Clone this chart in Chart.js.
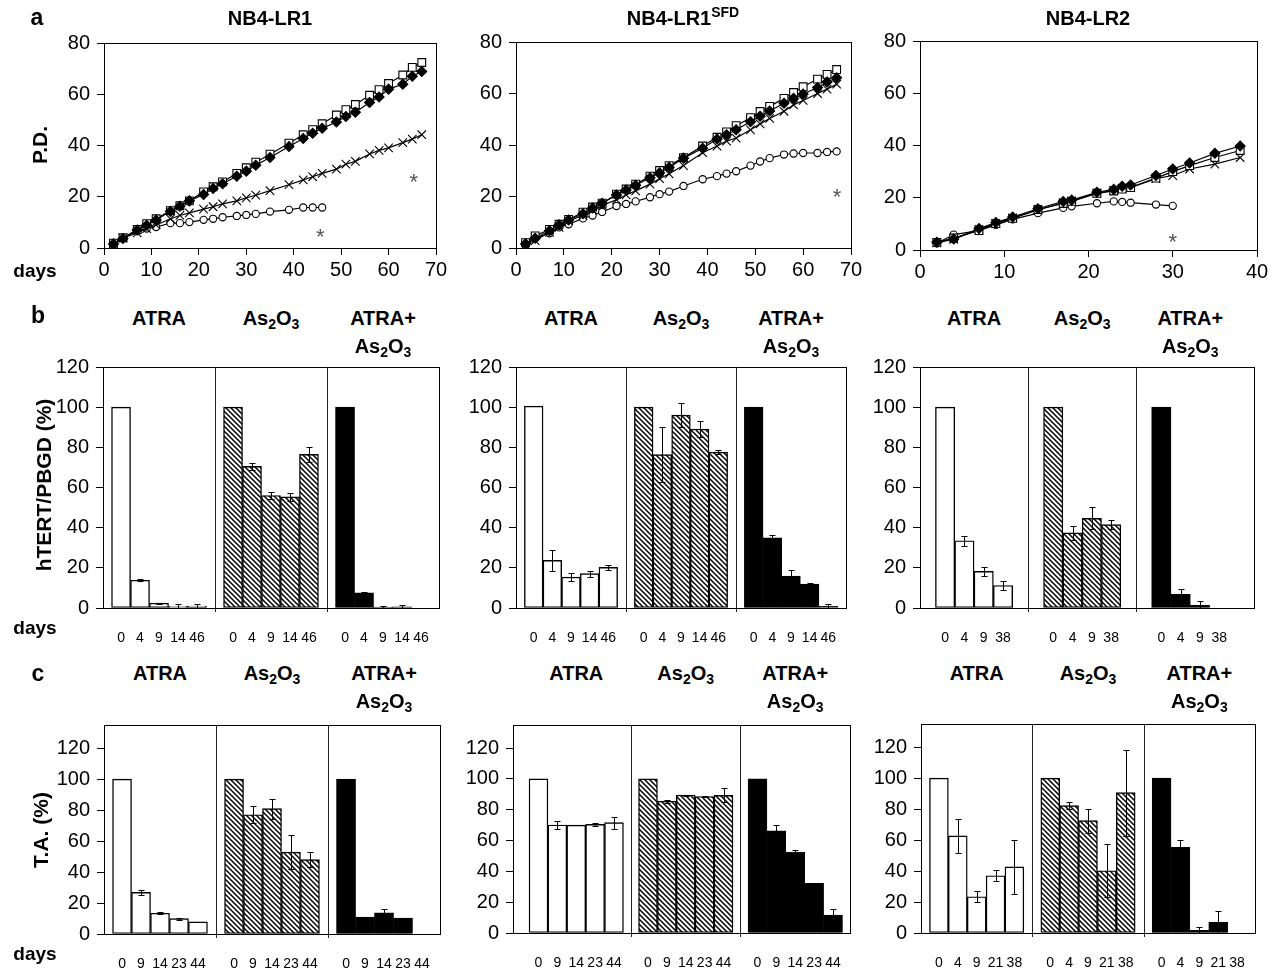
<!DOCTYPE html>
<html><head><meta charset="utf-8">
<script src="https://cdn.jsdelivr.net/npm/chart.js@4/dist/chart.umd.min.js"></script>
<style>
html,body{margin:0;padding:0;background:#fff}
#fig{position:relative;width:1282px;height:969px;overflow:hidden;font-family:'Liberation Sans',Arial,Helvetica,sans-serif;color:#000}
.pane{position:absolute}
.lbl{position:absolute;transform:translate(-50%,-50%);white-space:nowrap;font-weight:bold;line-height:1;z-index:5}
.rot{transform:translate(-50%,-50%) rotate(-90deg)}
sub,sup{font-size:70%;line-height:0}
sub{vertical-align:-0.3em}
sup{vertical-align:0.55em}
</style></head><body><div id="fig"></div>
<script>
// ---------------- DATA ----------------
// Row a: population doublings (P.D.) vs days
const daysLR1 = [2,4,7,9,11,14,16,18,21,23,25,28,30,32,35,39,42,44,46,49,51,53,56,58,60,63,65,67];
const lr1Square  = [1.9,4,7.2,9.5,11.4,14.6,16.5,18.4,21.9,23.9,25.8,29.1,31.3,33.5,36.6,40.9,44.2,46.2,48.5,51.9,54,56,59.6,61.8,64.2,67.5,70.5,72.4];
const lr1Diamond = [1.6,3.7,7,8.9,10.9,14.3,16.3,18.4,20.9,23.2,25.1,28,30,32.3,35.3,39.6,42.7,44.8,46.7,49.2,51.3,53,56.8,58.9,62,63.9,67,68.9];
const lr1Cross   = [1.6,3.9,5.9,7.6,9,11.4,12.7,13.7,15.2,16.1,17.2,18.4,19.6,20.6,22.4,24.7,26.6,27.8,29.1,30.8,32.7,33.8,36.7,38.1,39.1,41.1,42.5,44.2];
const lr1Circle  = [1.6,3.8,6.6,7.6,8.2,9.7,9.7,10.1,11,11.4,12,12.5,12.9,13.3,14.2,14.9,15.8,15.8,15.8];
const lr1Stars   = [{x:45.6,y:5.7},{x:65.3,y:27.2}];

const daysSFD = [2,4,7,9,11,14,16,18,21,23,25,28,30,32,35,39,42,44,46,49,51,53,56,58,60,63,65,67];
const sfdSquare  = [2.1,4.7,7.2,9.2,11.1,13.9,15.9,17.4,20.9,22.9,24.8,27.9,30.1,32,35.1,39.6,43,45.1,47.5,50.6,53,55,58.1,60.4,62.6,65.6,67.4,69.3];
const sfdDiamond = [1.6,3.8,6.7,9,10.9,13.3,15.5,17.4,20.6,22.5,24.4,27.3,29.2,31.3,34.9,38.7,42.3,44,45.9,49,51.2,53.2,56.2,58.1,59.8,62.3,64.5,66.1];
const sfdCross   = [1.3,2.9,6.1,8,10.5,12.6,14.9,16.6,18.7,20.6,22.2,24.8,26.9,28.8,32,37,39.6,41.5,42.7,45.9,48.2,50.3,53.1,55.6,57.3,60,61.7,63.6];
const sfdCircle  = [1.6,3.8,5.7,8,9.2,11.5,12.6,14,16.3,17.1,18.1,19.7,20.9,21.9,24.1,26.7,27.9,28.9,29.8,32,33.6,34.9,36.3,36.7,36.9,36.9,37.3,37.5];
const sfdStars   = [{x:67.1,y:21.2}];

const daysLR2 = [2,4,7,9,11,14,17,18,21,23,24,25,28,30,32,35,38];
const lr2Square  = [2.9,4.6,7.4,10.1,12.1,15.5,17.8,18.6,21.7,22.6,23.3,23.9,27.5,30,32.3,35.4,38.1];
const lr2Diamond = [3,4.2,8.2,10.5,12.6,15.8,18.6,19.1,22.1,23.2,24.4,24.9,28.5,31,33.3,37,39.8];
const lr2Cross   = [2.7,4.1,7.9,10.1,12.3,15.3,18.1,18.8,21.8,22.8,23.6,24,27.3,28.5,31,32.9,35.4];
const lr2Circle  = [2.6,5.9,7.4,9.6,11.7,14.1,16.1,16.7,17.9,18.6,18.4,18.1,17.4,16.9];
const lr2Stars   = [{x:30,y:4.6}];

const xTicksLR1 = [0,10,20,30,40,50,60,70];
const xTicksLR2 = [0,10,20,30,40];
const yTicksPD  = [0,20,40,60,80];
const yTicksPct = [0,20,40,60,80,100,120];

const groupNames = ['ATRA','As<sub>2</sub>O<sub>3</sub>','ATRA+|As<sub>2</sub>O<sub>3</sub>'];

// Row b: hTERT/PBGD (%)
const bLR1Days = ['0','4','9','14','46'];
const bLR1Atra = [100,13.8,2.4,0.8,1.0],   bLR1AtraErr = [0,0.5,0.3,1.0,0.8];
const bLR1As   = [100,70.5,56,55.3,76.5],  bLR1AsErr   = [0,1.6,1.6,1.8,3.6];
const bLR1Both = [100,7.5,0.5,0.6,0],      bLR1BothErr = [0,0.6,0.5,1.0,0];

const bSFDDays = ['0','4','9','14','46'];
const bSFDAtra = [100.5,23.7,15.4,17.1,20.2], bSFDAtraErr = [0,5.2,2,1.5,1.3];
const bSFDAs   = [100,76.4,96,89.1,77.6],     bSFDAsErr   = [0,13.8,6,4.1,1.1];
const bSFDBoth = [100,35,15.9,11.9,0.8],      bSFDBothErr = [0,1.4,3.1,0.3,1.2];

const bLR2Days = ['0','4','9','38'];
const bLR2Atra = [100,33.5,18.2,11.2], bLR2AtraErr = [0,2.5,2.1,2.3];
const bLR2As   = [100,37.4,44.6,41.5], bLR2AsErr   = [0,3.6,5.5,2.1];
const bLR2Both = [100,6.8,1.3,0],      bLR2BothErr = [0,2.5,2.3,0];

// Row c: T.A. (%)
const cLR1Days = ['0','9','14','23','44'];
const cLR1Atra = [100,26.9,13.4,9.9,7.8], cLR1AtraErr = [0,1.4,0.6,0.7,0];
const cLR1As   = [100,77,81,52.9,48],     cLR1AsErr   = [0,5.4,6.5,11.1,4.9];
const cLR1Both = [100,10.9,13.6,10.3,0],  cLR1BothErr = [0,0.3,2.6,0,0];

const cSFDDays = ['0','9','14','23','44'];
const cSFDAtra = [100,70.1,70,70.5,71.6], cSFDAtraErr = [0,2.8,0,0.8,3.8];
const cSFDAs   = [100,85.5,89.5,88.6,89.3], cSFDAsErr = [0,1,0.3,0.5,4.6];
const cSFDBoth = [100,66.3,52.6,32.2,11.6], cSFDBothErr = [0,3.6,1,0.3,4.2];

const cLR2Days = ['0','4','9','21','38'];
const cLR2Atra = [100,62.7,23.4,37,42.7], cLR2AtraErr = [0,11.2,3.5,3.6,17.3];
const cLR2As   = [100,82.3,72.6,40.2,90.7], cLR2AsErr = [0,2.5,7.8,17.1,27.8];
const cLR2Both = [100,55.4,1.7,6.9,0],    cLR2BothErr = [0,4.4,2.1,7,0];

// ---------------- RENDERING ----------------
const FONT = "'Liberation Sans', Arial, Helvetica, sans-serif";
Chart.defaults.font.family = FONT;
Chart.defaults.color = '#000';
const PT = 14, PR = 22, YW = 62, XH = 44;
const fig = document.getElementById('fig');

function label(html, cx, cy, size, extraCls) {
  const d = document.createElement('div');
  d.className = 'lbl' + (extraCls ? ' ' + extraCls : '');
  d.style.left = cx + 'px'; d.style.top = cy + 'px'; d.style.fontSize = size + 'px';
  d.innerHTML = html; fig.appendChild(d); return d;
}

function place(box) {
  const wrap = document.createElement('div'); wrap.className = 'pane';
  const w = box.R - box.L + YW + PR, h = box.B - box.T + PT + XH;
  wrap.style.left = (box.L - YW) + 'px'; wrap.style.top = (box.T - PT) + 'px';
  const cv = document.createElement('canvas'); cv.width = w; cv.height = h;
  cv.style.width = w + 'px'; cv.style.height = h + 'px';
  wrap.appendChild(cv); fig.appendChild(wrap);
  return { cv, offX: box.L - YW, offY: box.T - PT };
}

function framePlugin(dividers) {
  return { id: 'frame', afterDatasetsDraw(chart) {
    const { ctx, chartArea: a } = chart; const x = chart.scales.x;
    ctx.save(); ctx.strokeStyle = '#000'; ctx.lineWidth = 1;
    ctx.strokeRect(Math.round(a.left) + 0.5, Math.round(a.top) + 0.5, Math.round(a.right - a.left), Math.round(a.bottom - a.top));
    ctx.strokeStyle = '#222';
    (dividers || []).forEach(v => {
      const px = Math.round(x.getPixelForValue(v)) + 0.5;
      ctx.beginPath(); ctx.moveTo(px, a.top); ctx.lineTo(px, a.bottom + 4); ctx.stroke();
    });
    ctx.restore();
  } };
}

function starPlugin(stars) {
  return { id: 'stars', afterDatasetsDraw(chart) {
    const { ctx } = chart; const x = chart.scales.x, y = chart.scales.y;
    ctx.save(); ctx.fillStyle = '#555'; ctx.font = '22px ' + FONT; ctx.textAlign = 'center'; ctx.textBaseline = 'alphabetic';
    const m = ctx.measureText('*');
    const off = (m.actualBoundingBoxAscent - m.actualBoundingBoxDescent) / 2;
    stars.forEach(s => ctx.fillText('*', x.getPixelForValue(s.x), y.getPixelForValue(s.y) + off));
    ctx.restore();
  } };
}

const errorPlugin = { id: 'errbars', afterDatasetsDraw(chart) {
  const { ctx } = chart; const y = chart.scales.y;
  chart.data.datasets.forEach((ds, di) => {
    if (!ds.errors) return;
    const meta = chart.getDatasetMeta(di);
    meta.data.forEach((bar, i) => {
      const e = ds.errors[i]; if (!e) return;
      const v = ds.data[i].y;
      const top = Math.round(y.getPixelForValue(v + e)) + 0.5;
      const bot = Math.round(y.getPixelForValue(Math.max(0, v - e))) + 0.5;
      const bx = Math.round(bar.x) + 0.5;
      ctx.save(); ctx.strokeStyle = '#000'; ctx.lineWidth = 1; ctx.beginPath();
      ctx.moveTo(bx, top); ctx.lineTo(bx, bot);
      ctx.moveTo(bx - 3, top); ctx.lineTo(bx + 3, top);
      ctx.moveTo(bx - 3, bot); ctx.lineTo(bx + 3, bot);
      ctx.stroke(); ctx.restore();
    });
  });
} };

function yScale(max, tickVals) {
  return {
    type: 'linear', min: 0, max,
    afterFit: s => { s.width = YW; },
    afterBuildTicks: s => { s.ticks = tickVals.map(v => ({ value: v })); },
    ticks: { font: { size: 20 }, padding: 7, color: '#000' },
    grid: { drawOnChartArea: false, drawTicks: true, tickLength: 7, color: '#000' },
    border: { display: true, color: '#000', width: 1 }
  };
}

function lineChart(box, days, series, xMax, xTicks, stars) {
  const { cv } = place(box);
  const style = {
    diamond: { pointStyle: 'rectRot', pointRadius: 5, pointBackgroundColor: '#000' },
    square:  { pointStyle: 'rect', pointRadius: 5.5, pointBackgroundColor: '#fff' },
    cross:   { pointStyle: 'crossRot', pointRadius: 6, pointBackgroundColor: '#000' },
    circle:  { pointStyle: 'circle', pointRadius: 3.6, pointBackgroundColor: '#fff' }
  };
  const datasets = series.map(s => Object.assign({
    label: s.name,
    data: s.values.map((v, i) => ({ x: days[i], y: v })),
    borderColor: '#000', borderWidth: 1.2, pointBorderColor: '#000', pointBorderWidth: 1.1,
    tension: 0, fill: false
  }, style[s.kind]));
  new Chart(cv, {
    type: 'line',
    data: { datasets },
    options: {
      responsive: false, animation: false, events: [],
      layout: { padding: { top: PT, right: PR, left: 0, bottom: 0 }, autoPadding: false },
      plugins: { legend: { display: false }, tooltip: { enabled: false } },
      scales: {
        x: { type: 'linear', min: 0, max: xMax,
             afterFit: s => { s.height = XH; },
             afterBuildTicks: s => { s.ticks = xTicks.map(v => ({ value: v })); },
             ticks: { font: { size: 20 }, padding: 3, maxRotation: 0, autoSkip: false },
             grid: { drawOnChartArea: false, drawTicks: true, tickLength: 7, color: '#000' },
             border: { display: true, color: '#000' } },
        y: yScale(80, yTicksPD)
      }
    },
    plugins: [framePlugin([]), starPlugin(stars)]
  });
}

function makeHatch() {
  const c = document.createElement('canvas'); c.width = 5; c.height = 5;
  const g = c.getContext('2d');
  g.fillStyle = '#fff'; g.fillRect(0, 0, 5, 5);
  g.strokeStyle = '#000'; g.lineWidth = 1.5; g.beginPath();
  g.moveTo(-1, -1); g.lineTo(6, 6);
  g.moveTo(-1, 4); g.lineTo(1, 6);
  g.moveTo(4, -1); g.lineTo(6, 1);
  g.stroke();
  return g.createPattern(c, 'repeat');
}
const HATCH = makeHatch();

function barChart(box, days, groups, yMax, lay, rowY) {
  const { cv, offX } = place(box);
  const n = days.length, m = lay.m;
  const step = n + 2 * m;
  const groupPos = groups.map((g, gi) => days.map((d, i) => gi * step + i));
  const tickPos = [].concat(...groupPos);
  const tickLbl = [].concat(...groups.map(() => days));
  const dividers = [step - 0.5 - m, 2 * step - 0.5 - m];
  const xmin = -0.5 - m - (lay.extraL || 0);
  const xmax = 2 * step + n - 0.5 + m + (lay.extraR || 0);
  const fills = ['#fff', HATCH, '#000'];
  const datasets = groups.map((g, gi) => ({
    label: g.name,
    data: g.values.map((v, i) => ({ x: groupPos[gi][i], y: v })),
    errors: g.errors,
    backgroundColor: fills[gi], borderColor: '#000', borderWidth: gi === 2 ? 0.5 : 1.4,
    borderSkipped: false, barPercentage: 1, categoryPercentage: 1, grouped: false
  }));
  const chart = new Chart(cv, {
    type: 'bar',
    data: { datasets },
    options: {
      responsive: false, animation: false, events: [],
      layout: { padding: { top: PT, right: PR, left: 0, bottom: 0 }, autoPadding: false },
      plugins: { legend: { display: false }, tooltip: { enabled: false } },
      scales: {
        x: { type: 'linear', min: xmin, max: xmax, offset: false, bounds: 'data',
             afterFit: s => { s.height = XH; },
             afterBuildTicks: s => { s.ticks = tickPos.map(v => ({ value: v })); },
             ticks: { callback: (v, i) => tickLbl[i], font: { size: 14 }, padding: 14, maxRotation: 0, minRotation: 0, autoSkip: false },
             grid: { display: false, offset: false },
             border: { display: true, color: '#000' } },
        y: yScale(yMax, yTicksPct)
      }
    },
    plugins: [errorPlugin, framePlugin(dividers)]
  });
  // group headings centred over each group
  const xs = chart.scales.x;
  groups.forEach((g, gi) => {
    const cx = offX + xs.getPixelForValue(gi * step + (n - 1) / 2);
    const parts = groupNames[gi].split('|');
    parts.forEach((p, pi) => label(p, cx, rowY[pi], 20));
  });
}

// ----- Row a -----
label('a', 37, 17, 23);
label('NB4-LR1', 270, 18, 20);
label('NB4-LR1<sup>SFD</sup>', 683, 18, 20);
label('NB4-LR2', 1088, 18, 20);
label('P.D.', 39, 145, 21, 'rot');
label('days', 35, 270, 19);

lineChart({ L: 104, R: 436, T: 38, B: 248 }, daysLR1, [
  { name: 'filled diamond', kind: 'diamond', values: lr1Diamond },
  { name: 'open square', kind: 'square', values: lr1Square },
  { name: 'cross', kind: 'cross', values: lr1Cross },
  { name: 'open circle', kind: 'circle', values: lr1Circle }
], 70, xTicksLR1, lr1Stars);

lineChart({ L: 516, R: 851, T: 37, B: 248 }, daysSFD, [
  { name: 'filled diamond', kind: 'diamond', values: sfdDiamond },
  { name: 'open square', kind: 'square', values: sfdSquare },
  { name: 'cross', kind: 'cross', values: sfdCross },
  { name: 'open circle', kind: 'circle', values: sfdCircle }
], 70, xTicksLR1, sfdStars);

lineChart({ L: 920, R: 1257, T: 36, B: 250 }, daysLR2, [
  { name: 'filled diamond', kind: 'diamond', values: lr2Diamond },
  { name: 'open square', kind: 'square', values: lr2Square },
  { name: 'cross', kind: 'cross', values: lr2Cross },
  { name: 'open circle', kind: 'circle', values: lr2Circle }
], 40, xTicksLR2, lr2Stars);

// ----- Row b -----
label('b', 38, 315, 23);
label('hTERT/PBGD (%)', 43, 485, 21, 'rot');
label('days', 35, 627, 19);
const rowB = [318, 346];
barChart({ L: 103, R: 439, T: 362, B: 608 }, bLR1Days, [
  { name: 'ATRA', values: bLR1Atra, errors: bLR1AtraErr },
  { name: 'As2O3', values: bLR1As, errors: bLR1AsErr },
  { name: 'ATRA+As2O3', values: bLR1Both, errors: bLR1BothErr }
], 120, { m: 0.45 }, rowB);
barChart({ L: 516, R: 846, T: 362, B: 608 }, bSFDDays, [
  { name: 'ATRA', values: bSFDAtra, errors: bSFDAtraErr },
  { name: 'As2O3', values: bSFDAs, errors: bSFDAsErr },
  { name: 'ATRA+As2O3', values: bSFDBoth, errors: bSFDBothErr }
], 120, { m: 0.45 }, rowB);
barChart({ L: 920, R: 1254, T: 362, B: 608 }, bLR2Days, [
  { name: 'ATRA', values: bLR2Atra, errors: bLR2AtraErr },
  { name: 'As2O3', values: bLR2As, errors: bLR2AsErr },
  { name: 'ATRA+As2O3', values: bLR2Both, errors: bLR2BothErr }
], 120, { m: 0.8, extraR: 0.5 }, rowB);

// ----- Row c -----
label('c', 38, 673, 23);
label('T.A. (%)', 40, 830, 21, 'rot');
label('days', 35, 953, 19);
const rowC = [673, 701];
barChart({ L: 104, R: 440, T: 720, B: 934 }, cLR1Days, [
  { name: 'ATRA', values: cLR1Atra, errors: cLR1AtraErr },
  { name: 'As2O3', values: cLR1As, errors: cLR1AsErr },
  { name: 'ATRA+As2O3', values: cLR1Both, errors: cLR1BothErr }
], 135, { m: 0.45 }, rowC);
barChart({ L: 513, R: 850, T: 720, B: 933 }, cSFDDays, [
  { name: 'ATRA', values: cSFDAtra, errors: cSFDAtraErr },
  { name: 'As2O3', values: cSFDAs, errors: cSFDAsErr },
  { name: 'ATRA+As2O3', values: cSFDBoth, errors: cSFDBothErr }
], 135, { m: 0.4, extraL: 0.45 }, rowC);
barChart({ L: 921, R: 1255, T: 719, B: 933 }, cLR2Days, [
  { name: 'ATRA', values: cLR2Atra, errors: cLR2AtraErr },
  { name: 'As2O3', values: cLR2As, errors: cLR2AsErr },
  { name: 'ATRA+As2O3', values: cLR2Both, errors: cLR2BothErr }
], 135, { m: 0.45 }, rowC);
</script></body></html>
